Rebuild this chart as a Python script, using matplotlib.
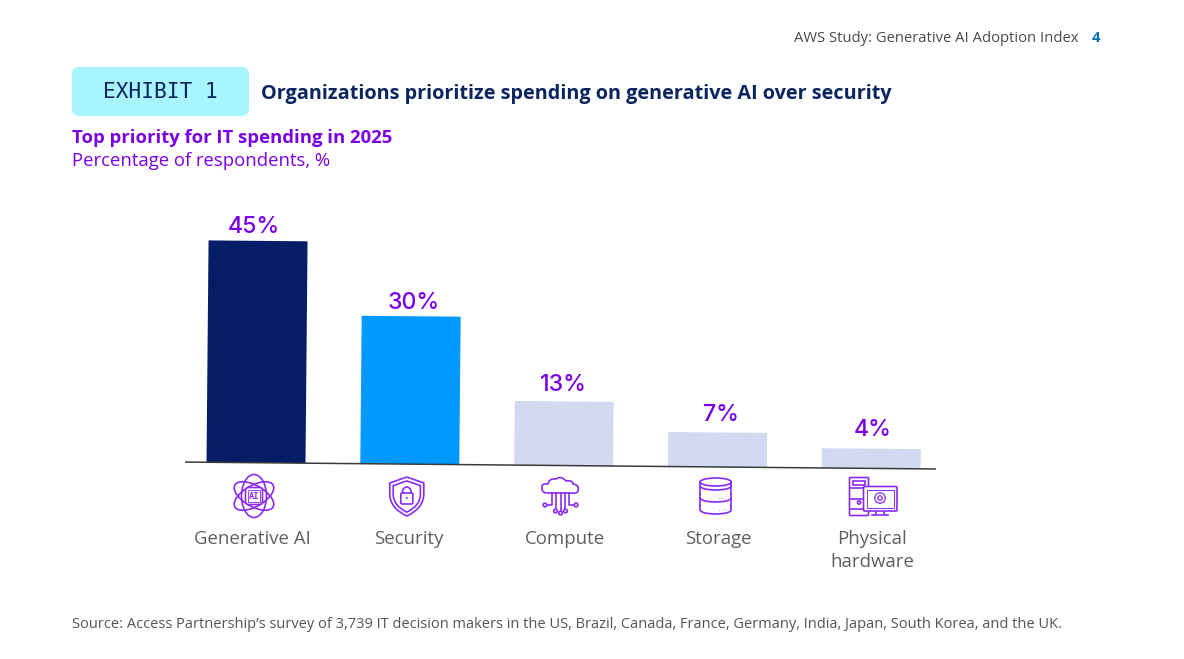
import numpy as np
import matplotlib
matplotlib.use("Agg")
import matplotlib.pyplot as plt
from matplotlib.patches import Ellipse, FancyBboxPatch, Rectangle, Circle, Arc, PathPatch, RegularPolygon
from matplotlib.path import Path
from matplotlib.transforms import Affine2D

categories = ["Generative AI", "Security", "Compute", "Storage", "Physical\nhardware"]
values = [45, 30, 13, 7, 4]
bar_colors = ["#051C66", "#0099FF", "#D3D9F0", "#D3D9F0", "#D3D9F0"]
value_labels = ["45%", "30%", "13%", "7%", "4%"]

W, H = 1184, 659
plt.rcParams['font.family'] = ['Open Sans', 'DejaVu Sans']
PURPLE = "#7A00E6"
ICON = "#8A2BF2"
NAVY = "#0B2560"
GREY = "#5F5F5F"

fig = plt.figure(figsize=(W / 100, H / 100), dpi=100, facecolor="white")

# overlay in pixel coordinates
ov = fig.add_axes([0, 0, 1, 1], zorder=3)
ov.set_xlim(0, W); ov.set_ylim(H, 0); ov.axis("off"); ov.patch.set_alpha(0)

# chart axes
PX_PER_UNIT = 4.93
SPACING = 153.8
X0 = 256.0
BASE = 462.7
ax_left, ax_right, ax_top = 150.0, 960.0, 200.0
ax = fig.add_axes([ax_left / W, 1 - BASE / H, (ax_right - ax_left) / W, (BASE - ax_top) / H], zorder=1)
ax.set_xlim((ax_left - X0) / SPACING, (ax_right - X0) / SPACING)
ax.set_ylim(0, (BASE - ax_top) / PX_PER_UNIT)
ax.axis("off")

# the whole chart is tilted slightly clockwise around the first bar's foot
tilt = Affine2D().rotate_deg_around(X0, H - BASE, -0.53)
xs = np.arange(len(categories))
bars = ax.bar(xs, values, width=99 / SPACING, color=bar_colors, linewidth=0)
for b in bars:
    b.set_transform(ax.transData + tilt)
    b.set_clip_on(False)
ax.plot([(185 - X0) / SPACING, (936 - X0) / SPACING], [0, 0], color="#3A3A3A", lw=1.1,
        transform=ax.transData + tilt, clip_on=False, zorder=4, solid_capstyle="butt")

label_dx = [-4, 2.2, -0.6, 3.1, 1.8]
label_dy = [14, 13, 16, 17.5, 19]
for x, v, t, dx, dy in zip(xs, values, value_labels, label_dx, label_dy):
    ax.annotate(t, xy=(x, v), xycoords=ax.transData + tilt, xytext=(dx, dy), textcoords="offset pixels",
                ha="center", va="center", fontsize=16.6, color=PURPLE, fontweight=500,
                family=["Inter"], annotation_clip=False)

# category labels
cat_dx = [-4, -0.8, 1.4, 1.1, 0.8]
for x, c, dx in zip(xs, categories, cat_dx):
    ov.text(X0 + x * SPACING + dx, 529.5, c, ha="center", va="top", fontsize=13.4, color=GREY, linespacing=1.36)

# header and titles
ov.text(1078, 38.5, "AWS Study: Generative AI Adoption Index", ha="right", va="center", fontsize=10.6, color="#4A4A4A")
ov.text(1096, 38.5, "4", ha="center", va="center", fontsize=10.8, color="#0073BB", fontweight="bold")
ov.add_patch(FancyBboxPatch((72, 67), 177, 49, boxstyle="round,pad=0,rounding_size=7", fc="#A8F5FF", ec="none"))
ov.text(160.5, 91.5, "EXHIBIT 1", ha="center", va="center", fontsize=15.2, color=NAVY, family=["DejaVu Sans Mono"])
ov.text(261, 94, "Organizations prioritize spending on generative AI over security", ha="left", va="center",
        fontsize=14.27, color=NAVY, fontweight="bold")
ov.text(72, 138, "Top priority for IT spending in 2025", ha="left", va="center", fontsize=13.3, color=PURPLE, fontweight="bold")
ov.text(72, 160.5, "Percentage of respondents, %", ha="left", va="center", fontsize=13.35, color=PURPLE)
ov.text(72, 624.5, "Source: Access Partnership\u2019s survey of 3,739 IT decision makers in the US, Brazil, Canada, France, Germany, India, Japan, South Korea, and the UK.",
        ha="left", va="center", fontsize=10.55, color="#555555")

LW = 1.2
def kw(**k):
    d = dict(fc="none", ec=ICON, lw=LW)
    d.update(k)
    return d

# Generative AI icon
cx, cy = 254, 496
for ang, (a, b) in zip((90, 30, -30), ((43, 25), (44, 21), (44, 21))):
    ov.add_patch(Ellipse((cx, cy), a, b, angle=ang, **kw()))
ov.add_patch(FancyBboxPatch((cx - 8.5, cy - 8.5), 17, 17, boxstyle="round,pad=0,rounding_size=3", zorder=5, **kw(fc="white")))
ov.add_patch(Rectangle((cx - 6, cy - 6), 12, 12, zorder=5, **kw(lw=0.6)))
ov.text(cx, cy + 0.3, "AI", ha="center", va="center", fontsize=6.2, color=ICON, zorder=6, family=["DejaVu Sans Mono"], fontweight="bold")

# Security icon
cx = 406.8
for s in (1, 0.8):
    top = 496.5 - 19.5 * s
    verts = [(cx, top), (cx + 17 * s, top + 6 * s), (cx + 17 * s, top + 17 * s),
             (cx + 17 * s, top + 31 * s), (cx, top + 39 * s),
             (cx - 17 * s, top + 31 * s), (cx - 17 * s, top + 17 * s),
             (cx - 17 * s, top + 6 * s), (cx, top)]
    codes = [Path.MOVETO, Path.LINETO, Path.LINETO, Path.CURVE3, Path.CURVE3, Path.CURVE3, Path.CURVE3, Path.LINETO, Path.LINETO]
    ov.add_patch(PathPatch(Path(verts, codes), **kw()))
ov.add_patch(FancyBboxPatch((cx - 6, 493), 12, 11, boxstyle="round,pad=0,rounding_size=1.5", **kw()))
ov.add_patch(Arc((cx, 493), 9, 12, theta1=180, theta2=360, **kw()))
ov.add_patch(Circle((cx, 498), 1, fc=ICON, ec="none"))

# Compute icon
cloud = Path([(546, 493), (541, 492), (542, 486), (543, 483), (548, 484), (549, 478), (556, 479),
              (561, 475), (566, 481), (573, 480), (573, 484), (580, 485), (578, 491), (577, 494), (572, 493), (546, 493)],
             [Path.MOVETO] + [Path.CURVE3] * 14 + [Path.LINETO])
ov.add_patch(PathPatch(cloud, **kw()))
ov.plot([552, 552, 547], [493, 505, 505], color=ICON, lw=LW)
ov.plot([569, 569, 574], [493, 505, 505], color=ICON, lw=LW)
ov.plot([556, 556], [493, 509], color=ICON, lw=LW)
ov.plot([560.5, 560.5], [493, 511], color=ICON, lw=LW)
ov.plot([565, 565], [493, 509], color=ICON, lw=LW)
for hx, hy in [(545, 505), (555.5, 511), (560.5, 513), (565.5, 511), (576, 505)]:
    ov.add_patch(Circle((hx, hy), 1.8, zorder=5, **kw(fc="white")))

# Storage icon
cx = 715.7
rx, ry = 15.5, 4
for i, top in enumerate((482, 494, 506)):
    if i == 0:
        ov.add_patch(Ellipse((cx, top), 2 * rx, 2 * ry, **kw()))
    ov.add_patch(Arc((cx, top + 4), 2 * rx, 2 * ry, theta1=0, theta2=180, **kw()))
    ov.plot([cx - rx, cx - rx], [top, top + 4], color=ICON, lw=LW)
    ov.plot([cx + rx, cx + rx], [top, top + 4], color=ICON, lw=LW)
    if i < 2:
        ov.plot([cx - rx, cx - rx], [top + 4, top + 12], color=ICON, lw=LW)
        ov.plot([cx + rx, cx + rx], [top + 4, top + 12], color=ICON, lw=LW)
    for dx in (5, 8, 11):
        ov.add_patch(Circle((cx + dx - 1, top + 5 - dx * 0.1), 0.4, fc=ICON, ec="none"))

# Physical hardware icon
ov.add_patch(FancyBboxPatch((849.5, 477.5), 19, 38, boxstyle="round,pad=0,rounding_size=1", **kw()))
ov.add_patch(Rectangle((853, 481), 12, 3.5, **kw()))
ov.plot([849.5, 863], [487.5, 487.5], color=ICON, lw=LW)
ov.plot([849.5, 863], [498.5, 498.5], color=ICON, lw=LW)
ov.plot([849.5, 868.5], [509, 509], color=ICON, lw=LW)
ov.add_patch(Circle((859, 502.5), 1.6, **kw()))
ov.add_patch(FancyBboxPatch((863.5, 486.5), 33.5, 24.5, boxstyle="round,pad=0,rounding_size=1", zorder=5, **kw(fc="white")))
ov.add_patch(Rectangle((866.5, 489.5), 27.5, 18.5, zorder=5, **kw(lw=0.7)))
ov.add_patch(RegularPolygon((880, 498), 8, radius=5.5, zorder=6, **kw(lw=0.9)))
ov.add_patch(Circle((880, 498), 2.2, zorder=6, **kw(lw=0.9)))
ov.plot([876.5, 875.5], [511, 514], color=ICON, lw=LW)
ov.plot([883.5, 884.5], [511, 514], color=ICON, lw=LW)
ov.plot([872, 888], [515, 515], color=ICON, lw=LW)

fig.savefig("out.png", dpi=100, facecolor="white")
